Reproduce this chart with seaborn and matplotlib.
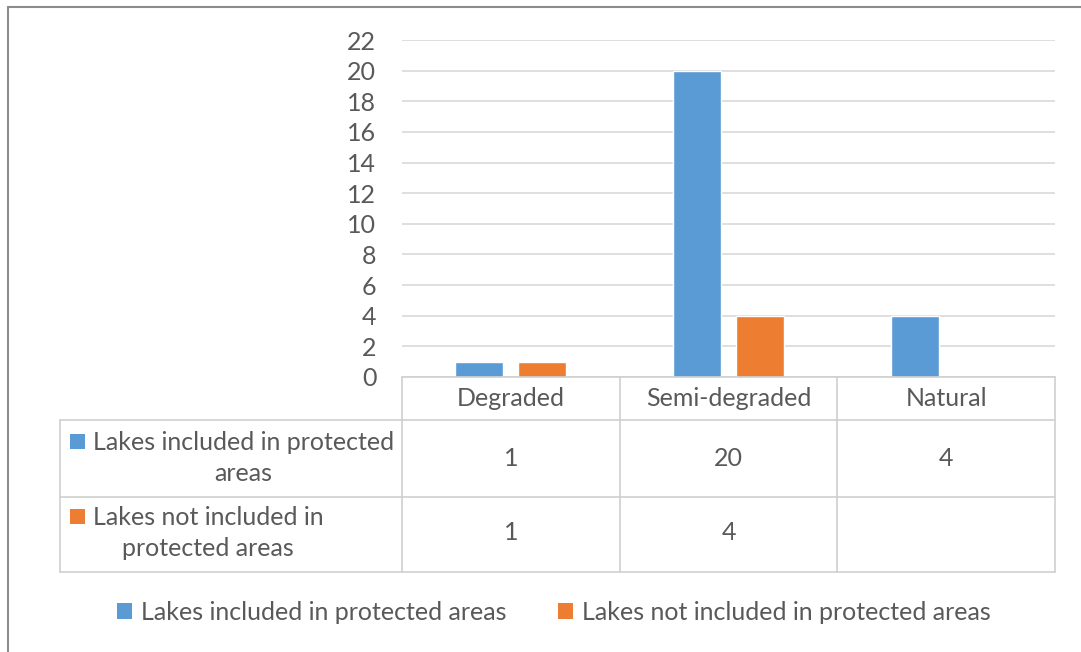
import numpy as np
import pandas as pd
import matplotlib
matplotlib.use("Agg")
import matplotlib.pyplot as plt
import matplotlib.transforms as mtransforms
from matplotlib.patches import Rectangle, Patch
from matplotlib.lines import Line2D
import seaborn as sns

# ---- data ----
categories = ["Degraded", "Semi-degraded", "Natural"]
series_names = ["Lakes included in protected areas",
                "Lakes not included in protected areas"]
included = [1, 20, 4]
not_included = [1, 4, None]
y_ticks = [0, 2, 4, 6, 8, 10, 12, 14, 16, 18, 20, 22]
table_row_labels = ["Lakes included in protected\nareas",
                    "Lakes not included in\nprotected areas"]
series_colors = ["#5B9BD5", "#ED7D31"]

df = pd.DataFrame({
    "category": categories * 2,
    "series": [series_names[0]] * len(categories) + [series_names[1]] * len(categories),
    "value": pd.to_numeric(pd.Series(included + not_included), errors="coerce"),
})

# ---- style ----
sns.set_theme(style="white")
plt.rcParams["font.family"] = ["Lato", "DejaVu Sans"]
TEXT = "#595959"
GRID = "#D9D9D9"
TABLE = "#CFCFCF"
FS = 18

W, H = 1081, 652
fig = plt.figure(figsize=(W / 100, H / 100), dpi=100)
fig.patch.set_facecolor("white")
# pixel coordinates, origin at the top-left corner
pix = mtransforms.Affine2D().scale(1 / W, -1 / H).translate(0, 1) + fig.transFigure

ax_l, ax_r, ax_t, ax_b = 402, 1055, 40, 377
ax = fig.add_axes([ax_l / W, 1 - ax_b / H, (ax_r - ax_l) / W, (ax_b - ax_t) / H])

sns.barplot(data=df, x="category", y="value", hue="series",
            order=categories, hue_order=series_names, palette=series_colors,
            saturation=1, width=0.58, gap=0.24, legend=False, ax=ax, zorder=3)

ax.set_xlim(-0.5, len(categories) - 0.5)
ax.set_ylim(0, 22)
ax.set_yticks(y_ticks)
ax.set_xlabel("")
ax.set_ylabel("")
for s in ax.spines.values():
    s.set_visible(False)
ax.yaxis.grid(True, color=GRID, lw=1.2)
ax.set_axisbelow(True)
ax.tick_params(axis="y", length=4.5, width=1.2, color=GRID, pad=14,
               labelsize=FS, labelcolor=TEXT)
ax.tick_params(axis="x", length=0, pad=7, labelsize=FS, labelcolor=TEXT)

# ---- data table under the plot ----
xdata_ypix = mtransforms.blended_transform_factory(ax.transData, pix)
row_lines = [420, 497, 572]
table_left = 60

def hline(x0, x1, y, color=TABLE, lw=1.2):
    fig.add_artist(Line2D([x0, x1], [y, y], color=color, lw=lw, transform=pix))

hline(ax_l, ax_r, ax_b)
for y in row_lines:
    hline(table_left, ax_r, y)
fig.add_artist(Line2D([table_left, table_left], [row_lines[0], row_lines[-1]],
                      color=TABLE, lw=1.2, transform=pix))
for b in np.arange(len(categories) + 1) - 0.5:
    fig.add_artist(Line2D([b, b], [ax_b, row_lines[-1]], color=TABLE, lw=1.2,
                          transform=xdata_ypix))

row_values = [included, not_included]
row_centers = [458, 533]
for r, (vals, yc) in enumerate(zip(row_values, row_centers)):
    for i, v in enumerate(vals):
        if v is not None:
            fig.text(i, yc, f"{v}", transform=xdata_ypix, ha="center", va="center",
                     fontsize=FS, color=TEXT)
    # legend key and wrapped label
    fig.add_artist(Rectangle((70, yc - 24), 15, 15, transform=pix,
                             facecolor=series_colors[r], edgecolor="none"))
    fig.text(93, yc, table_row_labels[r], transform=pix, ha="left", va="center",
             multialignment="center", fontsize=FS, color=TEXT, linespacing=1.45)

# ---- legend ----
handles = [Patch(facecolor=c, edgecolor="none") for c in series_colors]
leg = fig.legend(handles, series_names, loc="center", ncol=2, frameon=False,
                 bbox_to_anchor=(554 / W, 1 - 612 / H), fontsize=FS,
                 handlelength=0.6, handleheight=0.6, handletextpad=0.36,
                 columnspacing=2.08, borderaxespad=0)
for t in leg.get_texts():
    t.set_color(TEXT)

# ---- chart-area border ----
fig.add_artist(Line2D([8, 8], [7, H], color="#8C8C8C", lw=1.5, transform=pix))
fig.add_artist(Line2D([8, W], [7, 7], color="#8C8C8C", lw=1.5, transform=pix))

fig.savefig("out.png", dpi=100, facecolor="white")
